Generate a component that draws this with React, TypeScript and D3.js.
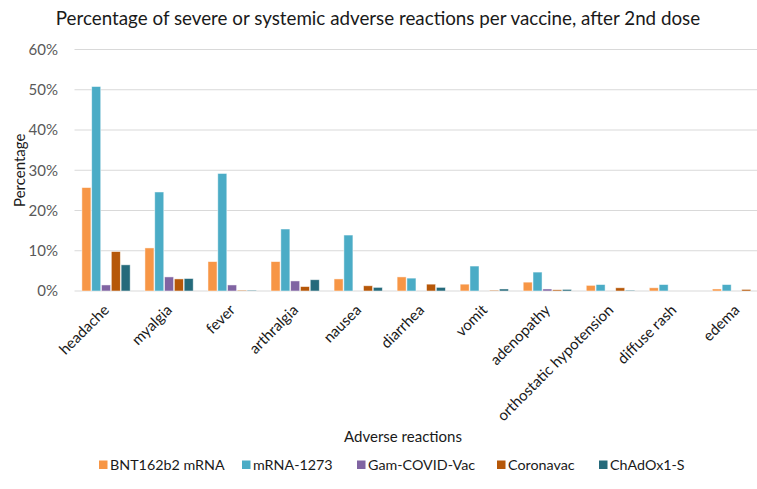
import * as d3 from "d3";

const reactions = [
  "headache",
  "myalgia",
  "fever",
  "arthralgia",
  "nausea",
  "diarrhea",
  "vomit",
  "adenopathy",
  "orthostatic hypotension",
  "diffuse rash",
  "edema",
];

const vaccines = ["BNT162b2 mRNA", "mRNA-1273", "Gam-COVID-Vac", "Coronavac", "ChAdOx1-S"];

// percentages, one array per vaccine, in reaction order
const bnt162b2 = [25.7, 10.7, 7.3, 7.3, 3.0, 3.5, 1.7, 2.2, 1.4, 0.8, 0.5];
const mrna1273 = [50.8, 24.6, 29.2, 15.4, 13.9, 3.2, 6.2, 4.7, 1.6, 1.6, 1.6];
const gamCovidVac = [1.5, 3.5, 1.5, 2.5, 0, 0, 0, 0.5, 0, 0, 0];
const coronavac = [9.8, 3.0, 0.2, 1.1, 1.3, 1.7, 0.2, 0.3, 0.8, 0, 0.4];
const chadox1 = [6.5, 3.1, 0.2, 2.8, 0.9, 0.9, 0.5, 0.4, 0.2, 0, 0];

const seriesValues = [bnt162b2, mrna1273, gamCovidVac, coronavac, chadox1];
const colors = ["#f79646", "#4bacc6", "#8064a2", "#b65708", "#256a7b"];

const yTicks = [0, 10, 20, 30, 40, 50, 60];

const font = "Lato, 'Open Sans', sans-serif";

export default function App() {
  const width = 757;
  const height = 489;
  const left = 74.5;
  const right = 768;
  const top = 49.5;
  const bottom = 291;

  const x0 = d3.scaleBand<string>().domain(reactions).range([left, right]).padding(0);
  const x1 = d3
    .scaleBand<string>()
    .domain(vaccines)
    .range([7, x0.bandwidth() - 7])
    .paddingInner(0.08)
    .paddingOuter(0.04);
  const y = d3.scaleLinear().domain([0, 60]).range([bottom, top]);

  const legendX = [99, 242, 357, 497, 599];

  return (
    <svg
      width={width}
      height={height}
      viewBox={`0 0 ${width} ${height}`}
      style={{ position: "absolute", left: 0, top: 0, background: "#fff" }}
      fontFamily={font}
    >
      <text x={378} y={25} textAnchor="middle" fontSize={18.8} fill="#1a1a1a">
        Percentage of severe or systemic adverse reactions per vaccine, after 2nd dose
      </text>

      {yTicks.map((t) => (
        <g key={t}>
          <line x1={left} x2={width} y1={y(t)} y2={y(t)} stroke="#d9d9d9" strokeWidth={1} />
          <text x={58} y={y(t)} dy="0.35em" textAnchor="end" fontSize={15} fill="#595959">
            {t}%
          </text>
        </g>
      ))}

      <text
        transform={`translate(20, ${(top + bottom) / 2}) rotate(-90)`}
        textAnchor="middle"
        dy="0.35em"
        fontSize={15}
        fill="#1a1a1a"
      >
        Percentage
      </text>

      {reactions.map((r, i) => (
        <g key={r} transform={`translate(${x0(r)}, 0)`}>
          {vaccines.map((v, s) => {
            const val = seriesValues[s][i];
            if (val <= 0) return null;
            return (
              <rect
                key={v}
                x={x1(v)}
                y={y(val)}
                width={x1.bandwidth()}
                height={bottom - y(val)}
                fill={colors[s]}
                stroke="#ffffff"
                strokeOpacity={0.6}
                strokeWidth={0.8}
              />
            );
          })}
        </g>
      ))}

      {reactions.map((r) => {
        const cx = (x0(r) ?? 0) + x0.bandwidth() / 2;
        return (
          <text
            key={r}
            transform={`translate(${cx + 4}, ${bottom + 20}) rotate(-45)`}
            textAnchor="end"
            fontSize={15}
            fill="#1a1a1a"
          >
            {r}
          </text>
        );
      })}

      <text x={403} y={442} textAnchor="middle" fontSize={15} fill="#1a1a1a">
        Adverse reactions
      </text>

      {vaccines.map((v, s) => (
        <g key={v} transform={`translate(${legendX[s]}, 465)`}>
          <rect x={0} y={-4.5} width={8.5} height={8.5} fill={colors[s]} />
          <text x={11} y={0} dy="0.35em" fontSize={14.3} fill="#1a1a1a">
            {v}
          </text>
        </g>
      ))}
    </svg>
  );
}
